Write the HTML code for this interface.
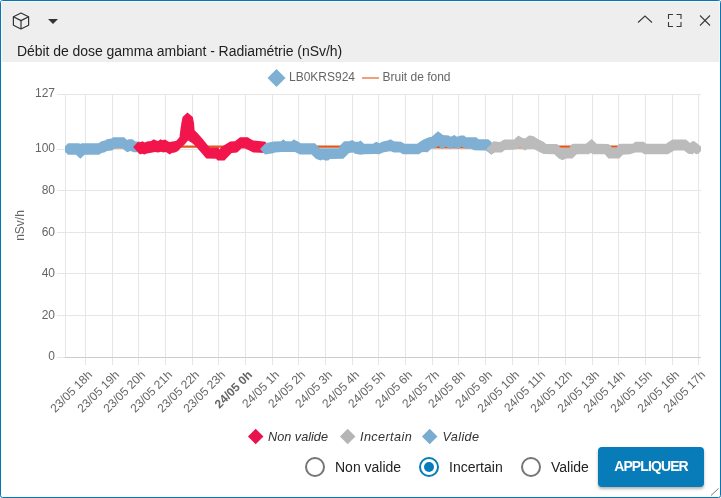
<!DOCTYPE html>
<html><head><meta charset="utf-8">
<style>
html,body{margin:0;padding:0;background:#fff;}
body{width:721px;height:498px;position:relative;overflow:hidden;font-family:"Liberation Sans",Arial,sans-serif;}
.panel{position:absolute;left:0;top:0;width:721px;height:498px;box-sizing:border-box;border:1px solid #0077b9;border-radius:2.5px;background:#fff;overflow:hidden;}
.hdr{position:absolute;left:0;top:0;width:717px;height:60px;background:#eeeeee;border:1px solid #fcf6f3;border-bottom:0;}
.title{position:absolute;left:16px;top:42px;font-size:14px;color:#1e1e1e;white-space:nowrap;letter-spacing:-0.05px;}
.leg{position:absolute;top:430px;font-size:12.7px;font-style:italic;color:#333;white-space:nowrap;}
.dia{position:absolute;width:11.4px;height:11.4px;transform:rotate(45deg);}
.radio{position:absolute;top:457px;width:16px;height:16px;border:2px solid #757575;border-radius:50%;}
.rlab{position:absolute;top:459px;font-size:14px;color:#222;white-space:nowrap;}
.btn{position:absolute;left:598px;top:447px;width:106px;height:40px;background:#077cb8;border-radius:4px;box-shadow:0 2px 3px rgba(0,0,0,0.3);color:#fff;font-weight:bold;font-size:14px;letter-spacing:-0.9px;text-align:center;line-height:38px;}
</style></head><body>
<div class="panel">
<div class="hdr"></div>
<svg width="721" height="62" style="position:absolute;left:-1px;top:-1px">
<g fill="none" stroke="#333" stroke-width="1.2" stroke-linejoin="round">
<polygon points="21,13 28.6,16.8 28.6,25.2 21,29 13.4,25.2 13.4,16.8"/>
<polyline points="13.4,16.8 21,20.6 28.6,16.8"/>
<line x1="21" y1="20.6" x2="21" y2="29"/>
</g>
<polygon points="48,19 58,19 53,24" fill="#333"/>
<g fill="none" stroke="#3a3a3a" stroke-width="1.1">
<polyline points="638,22.5 645,16 652,22.5"/>
<polyline points="668.5,19 668.5,14.5 673,14.5"/>
<polyline points="676.5,14.5 681,14.5 681,19"/>
<polyline points="668.5,22 668.5,26.5 673,26.5"/>
<polyline points="676.5,26.5 681,26.5 681,22"/>
<line x1="700" y1="15.5" x2="710" y2="25.5"/>
<line x1="710" y1="15.5" x2="700" y2="25.5"/>
</g>
</svg>
<div class="title">Débit de dose gamma ambiant - Radiamétrie (nSv/h)</div>
</div>
<div style="position:absolute;left:0;top:0;width:721px;height:498px;">
<svg width="721" height="498" viewBox="0 0 721 498" style="position:absolute;left:0;top:0">
<line x1="57" y1="94.5" x2="701" y2="94.5" stroke="#e6e6e6" stroke-width="1"/>
<line x1="57" y1="149.5" x2="701" y2="149.5" stroke="#e6e6e6" stroke-width="1"/>
<line x1="57" y1="190.5" x2="701" y2="190.5" stroke="#e6e6e6" stroke-width="1"/>
<line x1="57" y1="232.5" x2="701" y2="232.5" stroke="#e6e6e6" stroke-width="1"/>
<line x1="57" y1="273.5" x2="701" y2="273.5" stroke="#e6e6e6" stroke-width="1"/>
<line x1="57" y1="315.5" x2="701" y2="315.5" stroke="#e6e6e6" stroke-width="1"/>
<line x1="65.5" y1="94" x2="65.5" y2="357" stroke="#e6e6e6" stroke-width="1"/>
<line x1="85.5" y1="94" x2="85.5" y2="365" stroke="#e6e6e6" stroke-width="1"/>
<line x1="112.5" y1="94" x2="112.5" y2="365" stroke="#e6e6e6" stroke-width="1"/>
<line x1="138.5" y1="94" x2="138.5" y2="365" stroke="#e6e6e6" stroke-width="1"/>
<line x1="165.5" y1="94" x2="165.5" y2="365" stroke="#e6e6e6" stroke-width="1"/>
<line x1="192.5" y1="94" x2="192.5" y2="365" stroke="#e6e6e6" stroke-width="1"/>
<line x1="218.5" y1="94" x2="218.5" y2="365" stroke="#e6e6e6" stroke-width="1"/>
<line x1="245.5" y1="94" x2="245.5" y2="365" stroke="#e6e6e6" stroke-width="1"/>
<line x1="272.5" y1="94" x2="272.5" y2="365" stroke="#e6e6e6" stroke-width="1"/>
<line x1="298.5" y1="94" x2="298.5" y2="365" stroke="#e6e6e6" stroke-width="1"/>
<line x1="325.5" y1="94" x2="325.5" y2="365" stroke="#e6e6e6" stroke-width="1"/>
<line x1="352.5" y1="94" x2="352.5" y2="365" stroke="#e6e6e6" stroke-width="1"/>
<line x1="378.5" y1="94" x2="378.5" y2="365" stroke="#e6e6e6" stroke-width="1"/>
<line x1="405.5" y1="94" x2="405.5" y2="365" stroke="#e6e6e6" stroke-width="1"/>
<line x1="432.5" y1="94" x2="432.5" y2="365" stroke="#e6e6e6" stroke-width="1"/>
<line x1="458.5" y1="94" x2="458.5" y2="365" stroke="#e6e6e6" stroke-width="1"/>
<line x1="485.5" y1="94" x2="485.5" y2="365" stroke="#e6e6e6" stroke-width="1"/>
<line x1="512.5" y1="94" x2="512.5" y2="365" stroke="#e6e6e6" stroke-width="1"/>
<line x1="538.5" y1="94" x2="538.5" y2="365" stroke="#e6e6e6" stroke-width="1"/>
<line x1="565.5" y1="94" x2="565.5" y2="365" stroke="#e6e6e6" stroke-width="1"/>
<line x1="592.5" y1="94" x2="592.5" y2="365" stroke="#e6e6e6" stroke-width="1"/>
<line x1="618.5" y1="94" x2="618.5" y2="365" stroke="#e6e6e6" stroke-width="1"/>
<line x1="645.5" y1="94" x2="645.5" y2="365" stroke="#e6e6e6" stroke-width="1"/>
<line x1="672.5" y1="94" x2="672.5" y2="365" stroke="#e6e6e6" stroke-width="1"/>
<line x1="698.5" y1="94" x2="698.5" y2="365" stroke="#e6e6e6" stroke-width="1"/>
<line x1="57" y1="357.5" x2="65" y2="357.5" stroke="#e6e6e6" stroke-width="1"/>
<line x1="65" y1="357.5" x2="701" y2="357.5" stroke="#cccccc" stroke-width="1"/>
<text x="55" y="96.6" text-anchor="end" font-family="Liberation Sans, Arial, sans-serif" font-size="12" fill="#666666">127</text>
<text x="55" y="151.6" text-anchor="end" font-family="Liberation Sans, Arial, sans-serif" font-size="12" fill="#666666">100</text>
<text x="55" y="193.7" text-anchor="end" font-family="Liberation Sans, Arial, sans-serif" font-size="12" fill="#666666">80</text>
<text x="55" y="235.7" text-anchor="end" font-family="Liberation Sans, Arial, sans-serif" font-size="12" fill="#666666">60</text>
<text x="55" y="276.6" text-anchor="end" font-family="Liberation Sans, Arial, sans-serif" font-size="12" fill="#666666">40</text>
<text x="55" y="318.7" text-anchor="end" font-family="Liberation Sans, Arial, sans-serif" font-size="12" fill="#666666">20</text>
<text x="55" y="359.7" text-anchor="end" font-family="Liberation Sans, Arial, sans-serif" font-size="12" fill="#666666">0</text>
<text transform="translate(24,225.5) rotate(-90)" text-anchor="middle" font-family="Liberation Sans, Arial, sans-serif" font-size="12" fill="#666666">nSv/h</text>
<text transform="translate(93,375.5) rotate(-45)" text-anchor="end" font-family="Liberation Sans, Arial, sans-serif" font-size="12" fill="#666666">23/05 18h</text>
<text transform="translate(120,375.5) rotate(-45)" text-anchor="end" font-family="Liberation Sans, Arial, sans-serif" font-size="12" fill="#666666">23/05 19h</text>
<text transform="translate(146,375.5) rotate(-45)" text-anchor="end" font-family="Liberation Sans, Arial, sans-serif" font-size="12" fill="#666666">23/05 20h</text>
<text transform="translate(173,375.5) rotate(-45)" text-anchor="end" font-family="Liberation Sans, Arial, sans-serif" font-size="12" fill="#666666">23/05 21h</text>
<text transform="translate(200,375.5) rotate(-45)" text-anchor="end" font-family="Liberation Sans, Arial, sans-serif" font-size="12" fill="#666666">23/05 22h</text>
<text transform="translate(226,375.5) rotate(-45)" text-anchor="end" font-family="Liberation Sans, Arial, sans-serif" font-size="12" fill="#666666">23/05 23h</text>
<text transform="translate(253,375.5) rotate(-45)" text-anchor="end" font-family="Liberation Sans, Arial, sans-serif" font-size="12" fill="#666666" font-weight="bold">24/05 0h</text>
<text transform="translate(280,375.5) rotate(-45)" text-anchor="end" font-family="Liberation Sans, Arial, sans-serif" font-size="12" fill="#666666">24/05 1h</text>
<text transform="translate(306,375.5) rotate(-45)" text-anchor="end" font-family="Liberation Sans, Arial, sans-serif" font-size="12" fill="#666666">24/05 2h</text>
<text transform="translate(333,375.5) rotate(-45)" text-anchor="end" font-family="Liberation Sans, Arial, sans-serif" font-size="12" fill="#666666">24/05 3h</text>
<text transform="translate(360,375.5) rotate(-45)" text-anchor="end" font-family="Liberation Sans, Arial, sans-serif" font-size="12" fill="#666666">24/05 4h</text>
<text transform="translate(386,375.5) rotate(-45)" text-anchor="end" font-family="Liberation Sans, Arial, sans-serif" font-size="12" fill="#666666">24/05 5h</text>
<text transform="translate(413,375.5) rotate(-45)" text-anchor="end" font-family="Liberation Sans, Arial, sans-serif" font-size="12" fill="#666666">24/05 6h</text>
<text transform="translate(440,375.5) rotate(-45)" text-anchor="end" font-family="Liberation Sans, Arial, sans-serif" font-size="12" fill="#666666">24/05 7h</text>
<text transform="translate(466,375.5) rotate(-45)" text-anchor="end" font-family="Liberation Sans, Arial, sans-serif" font-size="12" fill="#666666">24/05 8h</text>
<text transform="translate(493,375.5) rotate(-45)" text-anchor="end" font-family="Liberation Sans, Arial, sans-serif" font-size="12" fill="#666666">24/05 9h</text>
<text transform="translate(520,375.5) rotate(-45)" text-anchor="end" font-family="Liberation Sans, Arial, sans-serif" font-size="12" fill="#666666">24/05 10h</text>
<text transform="translate(546,375.5) rotate(-45)" text-anchor="end" font-family="Liberation Sans, Arial, sans-serif" font-size="12" fill="#666666">24/05 11h</text>
<text transform="translate(573,375.5) rotate(-45)" text-anchor="end" font-family="Liberation Sans, Arial, sans-serif" font-size="12" fill="#666666">24/05 12h</text>
<text transform="translate(600,375.5) rotate(-45)" text-anchor="end" font-family="Liberation Sans, Arial, sans-serif" font-size="12" fill="#666666">24/05 13h</text>
<text transform="translate(626,375.5) rotate(-45)" text-anchor="end" font-family="Liberation Sans, Arial, sans-serif" font-size="12" fill="#666666">24/05 14h</text>
<text transform="translate(653,375.5) rotate(-45)" text-anchor="end" font-family="Liberation Sans, Arial, sans-serif" font-size="12" fill="#666666">24/05 15h</text>
<text transform="translate(680,375.5) rotate(-45)" text-anchor="end" font-family="Liberation Sans, Arial, sans-serif" font-size="12" fill="#666666">24/05 16h</text>
<text transform="translate(706,375.5) rotate(-45)" text-anchor="end" font-family="Liberation Sans, Arial, sans-serif" font-size="12" fill="#666666">24/05 17h</text>
<polyline points="65,147.4 125,147.4 180,146.6 340,146.6 425,146.7 440,147.2 535,147.4 552,146.6 697,146.6" fill="none" stroke="#e0581c" stroke-width="2.4"/>
<g clip-path="url(#pc)">
<polygon points="65,146.5 68,143.3 79.3,143.3 80.3,144.3 81.3,143.3 98.3,143.3 101.6,141.2 104.9,140.4 107,139.3 111.5,138.6 113,137.3 124.1,137.3 127.1,140 128.6,139.3 132.6,139.3 135.2,141.5 140,141.5 140,152.3 133.6,152.3 130.6,151.1 127.1,152.3 122.1,148.3 115,148.3 112,150.6 107,151.1 105,152.3 101.6,152.9 99.1,154.7 84.7,154.7 80.3,158.7 76,154.7 68,154.7 65,151.7" fill="#7fb0d3"/>
<polygon points="133.1,147 137.9,142 140,142.2 142.5,141.3 144.7,142.4 146.9,141.5 151.2,140.9 153.7,139.2 156.2,140.6 158.1,140.9 160.6,139.2 162.5,140.2 165,139.4 167.5,140.9 169.3,142.1 172.5,141.4 175.6,140.9 176.6,140.5 179.6,137 179.8,134 180.5,129.1 181.4,123.1 182.6,117 187.4,112.6 192.8,117 194,123.1 194.6,130.3 197.6,133.3 202.5,138.7 207.3,144.8 209.5,147.5 218.5,147.5 219.6,149.5 220.7,147.5 224.5,145.1 230.2,141.6 235,141.3 240,137.3 248,137.3 249.2,138.3 253.3,140.4 265.5,141.7 266.5,143.5 266.5,152.9 253.3,152.5 248.3,150 245,148.6 241.4,148.6 237.2,152.5 231.6,152.9 224.5,160.6 217.5,160.6 216.1,158.8 206.3,158.5 200.3,151.5 195.8,146.6 192.8,143.6 188,140.5 184.4,144.8 180.2,148.4 178.1,150.9 175,152.4 171.8,153 169.6,154.6 167.5,153 165.6,152.1 163.1,152.4 161.2,151.8 158.1,152.4 155,152.1 151.2,152.7 146.9,153.4 144.4,154.6 141.9,153.7 140,154.6 138.7,153.3 133.1,147" fill="#f1154b"/>
<polygon points="260,149.1 265.5,143.2 273.3,141.6 281,141.2 283.3,139.2 285.8,141.2 291.6,141.2 294,139.2 296,140.8 297.5,141.2 300.8,143.3 315,143.3 318,146.5 320,148.3 339,148.3 340,145.4 344.1,141.2 349.1,141.2 352.4,140 355,141.8 358.5,141.8 360.4,140.6 362.3,142 364,143.7 373,143.7 376.2,141.7 379.4,143.3 382.1,141.7 388.4,140.3 390.7,139.2 393.8,141.2 401,141.7 404.7,143.7 417.2,143.7 419.9,141.7 423.5,139.4 429,137.2 431.7,136.7 438,131.3 443,134.9 448.8,135.4 450.7,136.7 454.3,134.9 457,136.7 460.6,135.4 464.2,135.5 466,137.2 476.3,137.2 478.5,139.2 488.3,139.2 491.8,142.3 491.8,150 491.8,155 486,150.5 480,150.5 474,150.3 470.4,148.6 464.4,148.6 461.7,146.5 459,148.6 456.3,148.6 453.9,147.3 451.5,148.6 448.7,148.6 446.1,146.5 443.5,148.6 441,148.6 438.3,145.8 435.5,148.6 431.5,148.6 427.2,152.5 425.4,152.1 421.7,152.3 419,154.3 402.9,154.3 400.2,152.5 393.8,152.5 390.7,151.2 388.4,151.6 383,152.5 379.4,154.3 375.8,153.9 364,154.3 360.4,154.8 355,153.7 353.2,152.5 349.1,152.9 343.3,158.7 330,159.1 328.3,160.4 325,160.4 322.5,159.5 320.8,160.4 319.1,160 315.8,158.7 311.6,154.6 300,154.6 295,152.1 281.6,152.1 275,152.5 273.3,153.3 265,154.4 260,149.1" fill="#7fb0d3"/>
<polygon points="486.2,149.2 491.6,143.6 493.3,141.3 500,142.1 504.1,139.6 514.1,139.6 518.3,135.5 521.6,137.6 524.9,138.4 529.1,135.5 533.2,135.9 537.4,138.8 543.5,141.7 546.2,143.9 557,143.9 558,144.7 560.8,148 569.2,148 571.7,144.3 573.3,143.7 585.8,143.7 591.7,139 596.7,143.7 608.5,143.9 612.5,147.8 616.7,147.6 618.9,144.1 620.2,143.7 632.8,143.7 635.4,141.7 643.6,141.7 646.3,143.7 666.1,143.7 668.8,141.7 672.5,139.4 685.9,139.4 690.1,143.1 691.9,141.6 694,141 697.9,144 701,146.5 701,151 698.5,153.7 696.1,154.3 694.3,152.8 692.5,154.3 688.3,153.7 684,150.4 674.3,150.5 672.5,151.6 667.9,154.3 644.5,154.3 641.7,152.5 635.4,152.5 630,154.3 622.9,154.8 619.3,158.4 608.4,158.4 604.8,154.3 593,154.3 590.8,153 588.6,154.3 576.8,154.3 572.4,158.4 566,158.4 562.5,160.2 558.8,158.4 554.3,154.3 543.5,153.9 538,151.2 533.2,148.8 528.3,148.4 524.9,150.5 520,147.4 515,149.6 505,150 501.6,152.5 495,152.5 491.6,154.6 486.2,149.2" fill="#bbbbbb"/>
</g>
<defs><clipPath id="pc"><rect x="65" y="60" width="636" height="300"/></clipPath></defs>
<polygon points="276.5,69 285.5,78 276.5,87 267.5,78" fill="#7fb0d3"/>
<text x="289" y="80.5" font-family="Liberation Sans, Arial, sans-serif" font-size="12" fill="#666666">LB0KRS924</text>
<line x1="362" y1="78" x2="379" y2="78" stroke="#f2a07c" stroke-width="2"/>
<text x="382.5" y="80.5" font-family="Liberation Sans, Arial, sans-serif" font-size="12" fill="#666666">Bruit de fond</text>
<line x1="711" y1="495.5" x2="718.5" y2="488.5" stroke="#777" stroke-width="1"/>
</svg>
</div>
<div class="dia" style="left:250.3px;top:431.3px;background:#e8134a"></div>
<div class="leg" style="left:268px">Non valide</div>
<div class="dia" style="left:342.3px;top:431.3px;background:#b5b5b5"></div>
<div class="leg" style="left:360px;letter-spacing:0.38px">Incertain</div>
<div class="dia" style="left:424.2px;top:431.3px;background:#7aabd0"></div>
<div class="leg" style="left:442.5px;letter-spacing:0.35px">Valide</div>
<div class="radio" style="left:305px"></div>
<div class="rlab" style="left:335px">Non valide</div>
<div class="radio" style="left:419px;border-color:#077cb8"><div style="position:absolute;left:3px;top:3px;width:10px;height:10px;border-radius:50%;background:#077cb8"></div></div>
<div class="rlab" style="left:449px">Incertain</div>
<div class="radio" style="left:521px"></div>
<div class="rlab" style="left:551px">Valide</div>
<div class="btn">APPLIQUER</div>
</body></html>
